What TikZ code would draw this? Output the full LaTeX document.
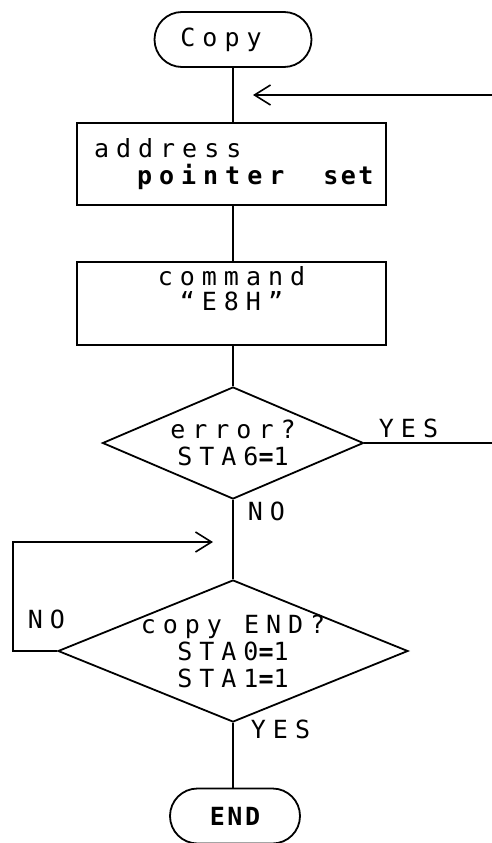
\documentclass[tikz,border=0pt]{standalone}
\usepackage{fontspec}
\usetikzlibrary{shapes.geometric,shapes.misc,arrows.meta}
\newfontfamily\lett[LetterSpace=28]{DejaVu Sans Mono}
\newfontfamily\lettend[LetterSpace=10]{DejaVu Sans Mono}
\begin{document}
\begin{tikzpicture}[x=1pt,y=-1pt, line width=1.8pt,
  every node/.style={font=\lett\fontsize{25}{27}\selectfont},
  term/.style={draw, rounded rectangle, minimum width=157pt, minimum height=55pt, inner sep=0pt},
  proc/.style={draw, rectangle, minimum width=309pt, inner sep=0pt},
  decision/.style={draw, diamond, inner sep=-14pt, align=center},
  lbl/.style={anchor=base west, inner sep=0pt},
  barb/.style={-{Straight Barb[length=16pt,width=20pt,line width=1.6pt]}}
]
\useasboundingbox (0,0) rectangle (492,843);

\node[term] (copy) at (233,39.5) {Copy\makebox[24pt]{}};
\node[proc, minimum height=82pt, text width=275pt, inner xsep=17pt, align=left] (addr) at (231.5,164)
  {address\\\makebox[0pt][l]{\hspace*{43pt}\textbf{pointer\hspace{39pt}{\lettend set}}}};
\node[proc, minimum height=83pt, align=center, text depth=30pt] (cmd) at (231.5,303.5)
  {command\\[-2pt]“E8H”};
\node[decision, minimum width=261pt, minimum height=112pt, aspect=2.33] (d1) at (233,443)
  {error?\\STA6{\bfseries =}1};
\node[decision, minimum width=350pt, minimum height=142pt, aspect=2.46] (d2) at (233,651)
  {copy END?\\STA0{\bfseries =}1\\STA1{\bfseries =}1};
\node[term, minimum width=130pt] (end) at (235,816) {\lettend\bfseries END};

\coordinate (inR) at (492,95);
\coordinate (inTip) at (253,95);
\coordinate (yesR) at (492,443);
\coordinate (loopC) at (13,542);
\coordinate (loopTip) at (213,542);

\draw (copy.south) -- (copy.south |- addr.north);
\draw[barb] (inR) -- (inTip);
\draw (addr.south -| d1.north) -- (cmd.north -| d1.north);
\draw (cmd.south -| d1.north) -- (d1.north);
\draw (d1.east) -- (yesR);
\draw (d1.south) -- (d2.north);
\draw[barb] (d2.west) -| (loopC) -- (loopTip);
\draw (d2.south) -- (d2.south |- end.north);

\node[lbl] (yes1) at (378,437) {YES};
\node[lbl] (no1) at (247,520) {NO};
\node[lbl] (no2) at (27,628) {NO};
\node[lbl] (yes2) at (250,738) {YES};
\end{tikzpicture}
\end{document}
